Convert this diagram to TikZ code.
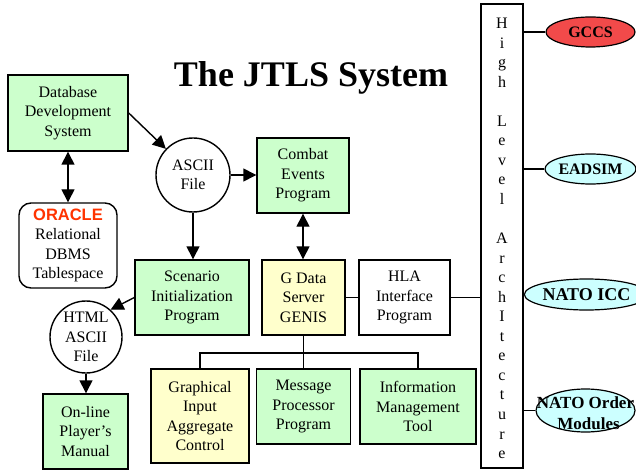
\documentclass[tikz,border=0pt]{standalone}
\usepackage{fontspec}
\setmainfont{Liberation Serif}
\newfontfamily\arialfont{Liberation Sans}
\usetikzlibrary{arrows.meta,shapes.geometric}
\definecolor{boxgreen}{HTML}{CCFFCC}
\definecolor{boxyellow}{HTML}{FFFFCC}
\definecolor{ellcyan}{HTML}{CCFFFF}
\definecolor{ellred}{HTML}{F24A4A}
\definecolor{oraclered}{HTML}{FF3300}
\tikzset{
  basebox/.style={draw, line width=1.4pt, align=center, inner sep=0pt, font=\fontsize{16}{19.5}\selectfont},
  gbox/.style={basebox, fill=boxgreen},
  ybox/.style={basebox, fill=boxyellow},
  wbox/.style={basebox, fill=white},
  circ/.style={basebox, circle, fill=white},
  ell/.style={draw, line width=1.2pt, ellipse, inner sep=0pt, align=center, font=\bfseries\fontsize{16}{18}\selectfont},
  bigell/.style={ell, font=\bfseries\fontsize{18}{21}\selectfont},
  arr/.style={line width=1.4pt, -{Triangle[length=13pt,width=13pt]}},
  darr/.style={line width=1.4pt, {Triangle[length=13pt,width=13pt]}-{Triangle[length=13pt,width=13pt]}},
  conn/.style={line width=1.4pt},
  letter/.style={anchor=base, inner sep=0pt, font=\fontsize{16}{19.5}\selectfont}
}
\begin{document}
\begin{tikzpicture}[x=1pt,y=-1pt]
\useasboundingbox (0,0) rectangle (636,470);
\node[anchor=base, inner sep=0pt, font=\bfseries\fontsize{36}{40}\selectfont] (title) at (311,87) {The JTLS System};

\node[gbox, minimum width=120, minimum height=76] (dds) at (68,113) {Database\\Development\\System};
\node[wbox, rounded corners=12pt, minimum width=98, minimum height=85] (oracle) at (68,245.5)
  {{\arialfont\bfseries\fontsize{16.5}{19.5}\selectfont\color{oraclered}ORACLE}\\Relational\\DBMS\\Tablespace};
\node[circ, minimum size=74] (ascii) at (193,175) {ASCII\\File};
\node[gbox, minimum width=92, minimum height=75] (combat) at (303,175.5) {Combat\\Events\\Program};
\node[gbox, minimum width=114, minimum height=75] (scen) at (192,297.5) {Scenario\\Initialization\\Program};
\node[ybox, minimum width=83, minimum height=75] (gdata) at (303.5,297.5) {G Data\\Server\\GENIS};
\node[wbox, minimum width=91, minimum height=75] (hla) at (404.5,297.5) {HLA\\Interface\\Program};
\node[circ, minimum size=72] (html) at (86,337) {HTML\\ASCII\\File};
\node[gbox, minimum width=85, minimum height=75] (manual) at (85.5,431.5) {On-line\\Player's\\Manual};
\node[ybox, minimum width=98, minimum height=94] (graph) at (200,416) {Graphical\\Input\\Aggregate\\Control};
\node[gbox, minimum width=94, minimum height=75] (msg) at (303.5,406.5) {Message\\Processor\\Program};
\node[gbox, minimum width=116, minimum height=75] (info) at (418,406.5) {Information\\Management\\Tool};

\node[wbox, minimum width=42, minimum height=464] (bar) at (502,236) {};
\foreach \ch [count=\i from 0] in {H,i,g,h,{},L,e,v,e,l,{},A,r,c,h,I,t,e,c,t,u,r,e}
  \node[letter] (hl\i) at (502,{28.5+\i*19.55}) {\ch};

\node[ell, fill=ellred, minimum width=89, minimum height=30] (gccs) at (590.5,32) {GCCS};
\node[ell, fill=ellcyan, minimum width=91, minimum height=30] (eadsim) at (590.5,169) {EADSIM};
\node[bigell, fill=ellcyan, minimum width=91, minimum height=31] (icc) at (586.5,294.5) {NATO ICC};
\node[ell, fill=ellcyan, minimum width=99, minimum height=43] (order) at (585.5,410.5)
  {\smash{\raisebox{-8.5pt}{\makebox[0pt]{\fontsize{17}{21}\selectfont\begin{tabular}{@{}c@{}}NATO Order\\\hspace*{6pt}Modules\end{tabular}}}}};

\draw[darr] (dds.south) -- (oracle.north);
\draw[arr] (dds.east) -- (ascii);
\draw[arr] (ascii.east) -- (combat.west |- ascii.east);
\draw[arr] (ascii.south) -- (ascii.south |- scen.north);
\draw[darr] (combat.south) -- (combat.south |- gdata.north);
\draw[arr] (scen.west) -- (html.48);
\draw[arr] (html.south) -- (html.south |- manual.north);
\draw[conn] (gdata.east) -- (hla.west);
\draw[conn] (hla.east) -- (hla.east -| bar.west);

\coordinate (j) at (303.5,353);
\draw[conn] (gdata.south) -- (j);
\draw[conn] (graph.north) |- (j) -| (info.north);
\draw[conn] (msg.north) -- (msg.north |- j);

\draw[conn] (gccs.west) -- (gccs.west -| bar.east);
\draw[conn] (eadsim.west) -- (eadsim.west -| bar.east);
\draw[conn] (icc.west) -- (icc.west -| bar.east);
\draw[conn] (order.west) -- (order.west -| bar.east);
\end{tikzpicture}
\end{document}
